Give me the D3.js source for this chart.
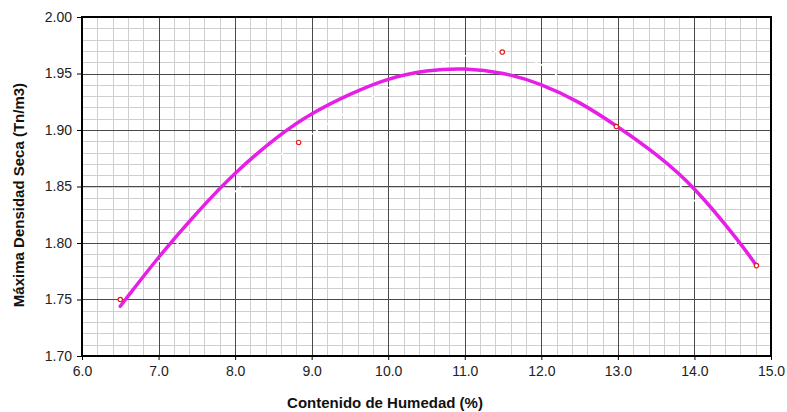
<!DOCTYPE html>
<html>
<head>
<meta charset="utf-8">
<script src="https://cdn.jsdelivr.net/npm/d3@7"></script>
<style>
  body { margin: 0; background: #fff; }
  svg { display: block; font-family: "Liberation Sans", Arial, sans-serif; }
</style>
</head>
<body>
<svg id="chart" width="787" height="412"></svg>
<script>
// ensayo proctor: puntos medidos
let humedad = [6.5, 8.83, 11.49, 12.98, 14.81];
let densidad = [1.750, 1.889, 1.969, 1.903, 1.780];

// linea de tendencia
let curvaX = [6.5, 7.0, 7.5, 8.0, 8.6, 9.0, 9.5, 10.0, 10.5, 11.0, 11.5, 12.0, 12.5, 13.0, 13.5, 14.0, 14.6, 14.8];
let curvaY = [1.744, 1.788, 1.827, 1.863, 1.897, 1.915, 1.932, 1.946, 1.953, 1.955, 1.951, 1.941, 1.925, 1.903, 1.879, 1.850, 1.800, 1.781];

let xTicks = [6, 7, 8, 9, 10, 11, 12, 13, 14, 15];
let yTicks = [1.70, 1.75, 1.80, 1.85, 1.90, 1.95, 2.00];

let canvas = d3.select("#chart");
let plotLeft = 82, plotTop = 17, plotRight = 771, plotBottom = 356;

let x = d3.scaleLinear().domain([6, 15]).range([plotLeft, plotRight]);
let y = d3.scaleLinear().domain([1.70, 2.00]).range([plotBottom, plotTop]);

// grilla menor
let minorX = d3.range(6, 15.0001, 0.2);
let minorY = d3.range(1.70, 2.0001, 0.01);
let grid = canvas.append("g");
grid.selectAll(".mx").data(minorX).enter().append("line")
    .attr("x1", d => Math.round(x(d)) + 0.5).attr("x2", d => Math.round(x(d)) + 0.5)
    .attr("y1", plotTop).attr("y2", plotBottom)
    .style("stroke", "#cfcfcf").style("stroke-width", 1);
grid.selectAll(".my").data(minorY).enter().append("line")
    .attr("y1", d => Math.round(y(d)) + 0.5).attr("y2", d => Math.round(y(d)) + 0.5)
    .attr("x1", plotLeft).attr("x2", plotRight)
    .style("stroke", "#cfcfcf").style("stroke-width", 1);

// grilla mayor
grid.selectAll(".Mx").data(xTicks).enter().append("line")
    .attr("x1", d => Math.round(x(d)) + 0.5).attr("x2", d => Math.round(x(d)) + 0.5)
    .attr("y1", plotTop).attr("y2", plotBottom)
    .style("stroke", "#4a4a4a").style("stroke-width", 1);
grid.selectAll(".My").data(yTicks).enter().append("line")
    .attr("y1", d => Math.round(y(d)) + 0.5).attr("y2", d => Math.round(y(d)) + 0.5)
    .attr("x1", plotLeft).attr("x2", plotRight)
    .style("stroke", "#4a4a4a").style("stroke-width", 1);

// linea punteada blanca entre puntos
let pts = humedad.map((h, i) => [h, densidad[i]]);
canvas.append("path")
    .datum(pts)
    .attr("d", d3.line().x(d => x(d[0])).y(d => y(d[1])).curve(d3.curveCatmullRom))
    .style("fill", "none")
    .style("stroke", "#fff")
    .style("stroke-width", 1.5)
    .style("stroke-dasharray", "3,3");

// tendencia
let curva = curvaX.map((c, i) => [c, curvaY[i]]);
canvas.append("path")
    .datum(curva)
    .attr("d", d3.line().x(d => x(d[0])).y(d => y(d[1])).curve(d3.curveBasis))
    .style("fill", "none")
    .style("stroke", "#e61ee6")
    .style("stroke-width", 3.5)
    .style("stroke-linecap", "round");

// puntos
canvas.selectAll(".pt").data(pts).enter().append("circle")
    .attr("cx", d => x(d[0]))
    .attr("cy", d => y(d[1]))
    .attr("r", 2.2)
    .style("fill", "#fff")
    .style("stroke", "#e0201c")
    .style("stroke-width", 1.2);

// ejes
let xAxis = canvas.append("g")
    .attr("transform", "translate(0," + plotBottom + ")")
    .call(d3.axisBottom(x).tickValues(xTicks).tickFormat(d3.format(".1f")).tickSize(4).tickPadding(6));
let yAxis = canvas.append("g")
    .attr("transform", "translate(" + plotLeft + ",0)")
    .call(d3.axisLeft(y).tickValues(yTicks).tickFormat(d3.format(".2f")).tickSize(5).tickPadding(5));
[xAxis, yAxis].forEach(a => {
    a.select(".domain").remove();
    a.selectAll("line").style("stroke", "#000");
    a.selectAll("text").style("font-size", "14px").style("fill", "#222")
        .style("font-family", "'Liberation Sans', Arial, sans-serif");
});

// borde
canvas.append("rect")
    .attr("x", plotLeft).attr("y", plotTop)
    .attr("width", plotRight - plotLeft).attr("height", plotBottom - plotTop)
    .style("fill", "none").style("stroke", "#000").style("stroke-width", 2);

// titulos
canvas.append("text")
    .attr("x", 385).attr("y", 408)
    .attr("text-anchor", "middle")
    .style("font-size", "15px").style("font-weight", "bold").style("fill", "#111")
    .text("Contenido de Humedad (%)");
canvas.append("text")
    .attr("transform", "translate(24,195) rotate(-90)")
    .attr("text-anchor", "middle")
    .style("font-size", "15px").style("font-weight", "bold").style("fill", "#111")
    .text("Máxima Densidad Seca (Tn/m3)");
</script>
</body>
</html>
